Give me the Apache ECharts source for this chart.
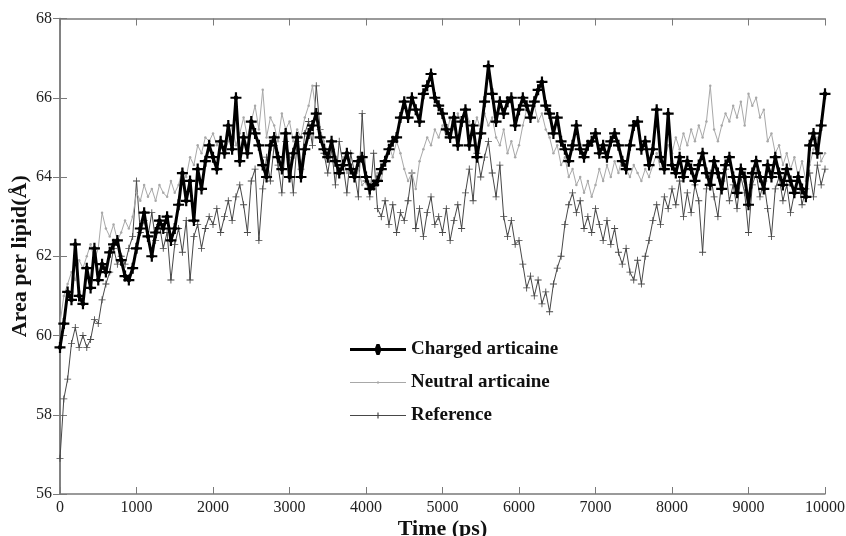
<!DOCTYPE html>
<html>
<head>
<meta charset="utf-8">
<script src="https://cdn.jsdelivr.net/npm/echarts@6/dist/echarts.min.js"></script>
<style>
  html, body { margin: 0; padding: 0; background: #fff; }
  #chart { width: 846px; height: 536px; }
</style>
</head>
<body>
<div id="chart"></div>
<script>
// Time axis: one sample every 50 ps from 0 to 10000 ps
const timeStep = 50;
const timeMax = 10000;

const xTicks = [0, 1000, 2000, 3000, 4000, 5000, 6000, 7000, 8000, 9000, 10000];
const yTicks = [56, 58, 60, 62, 64, 66, 68];

// Area per lipid (Å) — charged articaine
const charged = [
  59.7, 60.3, 61.1, 60.9, 62.3, 61.0, 60.8, 61.7, 61.2, 62.2, 61.4, 61.8, 61.6, 62.1, 62.3, 62.4, 61.9, 61.5, 61.4, 61.7,
  62.2, 62.7, 63.1, 62.5, 62.0, 62.6, 62.9, 62.7, 63.0, 62.4, 62.7, 63.3, 64.1, 63.4, 63.9, 62.9, 64.2, 63.7, 64.4, 64.8,
  64.5, 64.2, 64.9, 64.6, 65.3, 64.7, 66.0, 64.4, 65.0, 64.6, 65.4, 65.1, 64.8, 64.3, 64.0, 64.8, 65.0, 64.5, 64.2, 65.1,
  64.0, 64.6, 65.0, 64.0, 64.7, 65.1, 65.3, 65.6, 65.0, 64.7, 64.5, 64.9, 64.4, 64.1, 64.3, 64.6, 64.2, 64.0, 64.4, 64.5,
  64.0, 63.7, 63.8, 63.9, 64.2, 64.4, 64.7, 64.9, 65.0, 65.5, 65.9, 65.5, 66.0, 65.7, 65.4, 66.1, 66.3, 66.6, 66.0, 65.8,
  65.6, 65.2, 65.0, 65.5, 64.8, 65.4, 65.7, 64.8, 65.3, 64.5, 65.1, 65.9, 66.8, 66.1, 65.4, 65.9, 65.6, 65.9, 66.0, 65.3,
  65.7, 66.0, 65.8, 65.5, 65.9, 66.2, 66.4, 65.8, 65.6, 65.1, 65.5, 64.9, 64.7, 64.4, 64.8, 65.3, 64.7, 64.5, 64.8, 64.9,
  65.1, 64.6, 64.8, 64.5, 64.9, 65.1, 64.8, 64.4, 64.2, 64.8, 65.3, 65.4, 64.7, 64.9, 64.3, 64.7, 65.7, 64.5, 64.2, 65.6,
  64.3, 64.1, 64.5, 64.0, 64.4, 64.2, 63.9, 64.3, 64.6, 64.1, 63.8, 64.4, 64.1, 63.7, 64.3, 64.5, 64.0, 63.6, 64.2, 64.0,
  63.3, 64.1, 64.4, 64.0, 63.7, 64.3, 64.0, 64.5, 64.1, 63.8, 64.2, 63.9, 63.6, 64.0, 63.7, 63.5, 64.8, 65.1, 64.6, 65.3,
  66.1
];

// Area per lipid (Å) — neutral articaine
const neutral = [
  60.3, 61.0, 61.3, 61.6, 61.4, 61.9, 61.7, 62.0, 62.3, 61.9, 62.2, 63.1, 62.7, 62.5, 62.8, 62.4, 62.6, 62.9, 62.7, 63.0,
  63.6, 63.4, 63.8, 63.5, 63.7, 63.4, 63.8, 63.6, 63.5, 63.9, 63.6, 63.8, 64.2, 64.0, 64.5, 64.3, 64.8, 64.6, 65.0, 64.9,
  65.1, 64.8, 65.0, 64.6, 64.9, 65.3, 64.8, 65.1, 65.5, 65.0, 65.4, 65.8, 65.2, 66.2, 65.0, 65.5, 65.3, 64.9, 65.6, 65.2,
  65.4, 64.9, 65.2, 65.0, 65.5, 65.8, 66.3, 65.6, 65.2, 64.9, 64.6, 64.8, 64.4, 64.2, 64.5, 64.1, 64.3, 63.9, 64.2, 63.8,
  63.9, 63.6, 63.8, 64.1, 63.9, 64.5, 64.8, 64.5, 64.9, 64.6, 64.2, 63.9, 64.1, 63.7, 64.4, 64.7, 65.0, 64.8, 65.2, 65.0,
  65.3, 65.0, 65.5, 65.2, 65.6, 65.3, 65.7, 65.4, 65.1, 65.5, 65.2, 65.6, 65.3, 65.5, 65.0, 64.8, 65.2, 64.6, 64.9, 64.5,
  64.8, 65.3, 65.7, 65.5, 65.8, 65.4, 65.6, 65.2, 65.0, 64.6, 64.8, 64.3, 64.5, 64.0, 64.2, 63.8, 64.0, 63.6, 63.9, 63.5,
  63.8, 64.2, 63.9, 64.3, 64.0, 64.4, 64.1, 64.5, 64.2, 64.0, 64.3, 64.1, 63.9, 64.2, 64.0, 64.3, 64.6, 64.2, 64.4, 64.8,
  64.6, 65.0, 64.7, 65.1, 64.8, 65.2, 64.9, 65.3, 65.0, 65.4, 66.3, 65.2, 64.9, 65.3, 65.6, 65.4, 65.8, 65.5, 65.9, 65.3,
  66.1, 65.8, 66.0, 65.5, 65.7, 64.9, 65.1, 64.6, 64.8, 64.3, 64.6, 64.2, 64.5, 64.0, 64.4, 63.9, 64.3, 64.7, 65.0, 64.4,
  64.6
];

// Area per lipid (Å) — reference bilayer
const reference = [
  56.9, 58.4, 58.9, 59.8, 60.2, 59.7, 60.0, 59.7, 59.9, 60.4, 60.3, 60.9, 61.3, 61.6, 62.2, 61.8, 62.0, 61.8, 62.2, 62.5,
  63.9, 62.6, 62.9, 62.5, 63.1, 62.4, 62.8, 62.2, 62.6, 61.4, 62.3, 62.7, 62.1, 62.9, 61.4, 62.5, 62.8, 62.2, 62.7, 63.0,
  62.8, 63.2, 62.6, 63.0, 63.4, 62.9, 63.5, 63.8, 63.3, 62.6, 63.9, 64.2, 62.4, 63.7, 64.5, 63.9, 64.8, 64.3, 63.6, 64.9,
  64.5, 63.6, 64.9, 64.2, 65.1, 65.4, 64.8, 66.3, 65.2, 64.6, 64.1, 64.7, 63.8, 64.9, 64.3, 63.6, 64.6, 64.1, 63.5, 65.6,
  63.9, 63.5, 64.6, 63.2, 63.0, 63.4, 62.8, 63.3, 62.6, 63.1, 62.9, 63.4, 64.1, 62.7, 63.2, 62.5, 63.1, 63.5, 62.8, 63.0,
  62.6, 63.2, 62.4, 62.9, 63.3, 62.7, 63.6, 64.2, 63.4, 64.6, 64.0, 64.5, 64.9, 64.1, 63.5, 64.3, 63.0, 62.5, 62.9, 62.3,
  62.4, 61.8, 61.2, 61.5, 61.0, 61.4, 60.8, 61.1, 60.6, 61.3, 61.7, 62.0, 62.8, 63.3, 63.6, 63.1, 63.4, 62.7, 63.0, 62.6,
  63.2, 62.8, 62.4, 62.9, 62.3, 62.7, 62.1, 61.8, 62.2, 61.6, 61.4, 61.9, 61.3, 62.0, 62.4, 62.9, 63.3, 62.8, 63.5, 63.2,
  63.7, 63.3, 63.9, 63.0, 63.6, 63.1, 63.8, 63.4, 62.1, 63.7, 64.1, 63.5, 63.0, 63.9, 64.2, 63.4, 63.8, 63.2, 64.0, 63.6,
  62.6, 63.8, 64.1, 63.5, 63.9, 63.2, 62.5, 63.7, 64.0, 63.4, 63.8, 63.1, 63.6, 64.0, 63.3, 63.7, 64.1, 63.5, 64.3, 63.8,
  64.2
];

const seriesNames = ['Charged articaine', 'Neutral articaine', 'Reference'];

function toPairs(values) {
  return values.map((v, i) => [i * timeStep, v]);
}

const serif = '"Liberation Serif", "DejaVu Serif", serif';

// Marker shapes: heavy plus with diamond core, thin plus
const crossDiamond = 'path://M4,0 L6,0 L6,3 L7,4 L10,4 L10,6 L7,6 L6,7 L6,10 L4,10 L4,7 L3,6 L0,6 L0,4 L3,4 L4,3 Z';
const thinPlus = 'path://M4.4,0 L5.6,0 L5.6,4.4 L10,4.4 L10,5.6 L5.6,5.6 L5.6,10 L4.4,10 L4.4,5.6 L0,5.6 L0,4.4 L4.4,4.4 Z';

// Legend keys drawn in a 56 x 12 box: line segment with its marker in the middle
const keyCharged = 'path://M0,4.6 L56,4.6 L56,7.4 L0,7.4 Z M26.5,0.5 L29.5,0.5 L31.5,6 L29.5,11.5 L26.5,11.5 L24.5,6 Z';
const keyNeutral = 'path://M0,5.6 L56,5.6 L56,6.4 L0,6.4 Z M27,5 L29,5 L29,7 L27,7 Z';
const keyReference = 'path://M0,5.4 L56,5.4 L56,6.6 L0,6.6 Z M27.4,3 L28.6,3 L28.6,9 L27.4,9 Z';

const axisGray = '#7a7a7a';

const chart = echarts.init(document.getElementById('chart'), null, { renderer: 'canvas' });

chart.setOption({
  animation: false,
  backgroundColor: '#ffffff',
  grid: { left: 60, right: 21, top: 18.5, bottom: 42, containLabel: false, outerBoundsMode: 'none' },
  legend: {
    orient: 'vertical',
    left: 345,
    top: 335,
    itemWidth: 56,
    itemHeight: 12,
    itemGap: 14,
    data: [
      { name: seriesNames[0], icon: keyCharged },
      { name: seriesNames[1], icon: keyNeutral },
      { name: seriesNames[2], icon: keyReference }
    ],
    textStyle: { fontFamily: serif, fontWeight: 'bold', fontSize: 19, color: '#111' }
  },
  xAxis: [
    {
      type: 'value',
      min: 0,
      max: timeMax,
      interval: 1000,
      name: 'Time (ps)',
      nameLocation: 'middle',
      nameGap: 24,
      nameMoveOverlap: false,
      nameTextStyle: { fontFamily: serif, fontWeight: 'bold', fontSize: 22, color: '#111' },
      axisLine: { lineStyle: { color: axisGray, width: 1.5 } },
      axisTick: { inside: true, length: 7, lineStyle: { color: axisGray } },
      axisLabel: {
        fontFamily: serif, fontSize: 16, color: '#222', margin: 6,
        formatter: v => (xTicks.indexOf(v) >= 0 ? String(v) : '')
      },
      splitLine: { show: false }
    },
    {
      type: 'value',
      position: 'top',
      min: 0,
      max: timeMax,
      interval: 1000,
      axisLine: { lineStyle: { color: axisGray, width: 1.5 } },
      axisTick: { inside: true, length: 7, lineStyle: { color: axisGray } },
      axisLabel: { show: false },
      splitLine: { show: false }
    }
  ],
  yAxis: [
    {
      type: 'value',
      min: 56,
      max: 68,
      interval: 2,
      name: 'Area per lipid(Å)',
      nameLocation: 'middle',
      nameGap: 29,
      nameMoveOverlap: false,
      nameRotate: 90,
      nameTextStyle: { fontFamily: serif, fontWeight: 'bold', fontSize: 22, color: '#111' },
      axisLine: { show: true, lineStyle: { color: axisGray, width: 1.5 } },
      axisTick: { show: true, inside: true, length: 7, lineStyle: { color: axisGray } },
      axisLabel: {
        fontFamily: serif, fontSize: 16, color: '#222', margin: 8,
        formatter: v => (yTicks.indexOf(v) >= 0 ? String(v) : '')
      },
      splitLine: { show: false }
    },
    {
      type: 'value',
      position: 'right',
      min: 56,
      max: 68,
      interval: 2,
      axisLine: { show: true, lineStyle: { color: axisGray, width: 1.5 } },
      axisTick: { show: true, inside: true, length: 7, lineStyle: { color: axisGray } },
      axisLabel: { show: false },
      splitLine: { show: false }
    }
  ],
  series: [
    {
      name: 'Reference',
      type: 'line',
      data: toPairs(reference),
      z: 2,
      symbol: thinPlus,
      symbolSize: 7,
      showAllSymbol: true,
      lineStyle: { color: '#474747', width: 1 },
      itemStyle: { color: '#474747' }
    },
    {
      name: 'Neutral articaine',
      type: 'line',
      data: toPairs(neutral),
      z: 3,
      symbol: 'circle',
      symbolSize: 2.5,
      showAllSymbol: true,
      lineStyle: { color: '#a8a8a8', width: 1 },
      itemStyle: { color: '#a8a8a8' }
    },
    {
      name: 'Charged articaine',
      type: 'line',
      data: toPairs(charged),
      z: 4,
      symbol: crossDiamond,
      symbolSize: 11,
      showAllSymbol: true,
      lineStyle: { color: '#000', width: 3 },
      itemStyle: { color: '#000' }
    }
  ]
});
</script>
</body>
</html>
